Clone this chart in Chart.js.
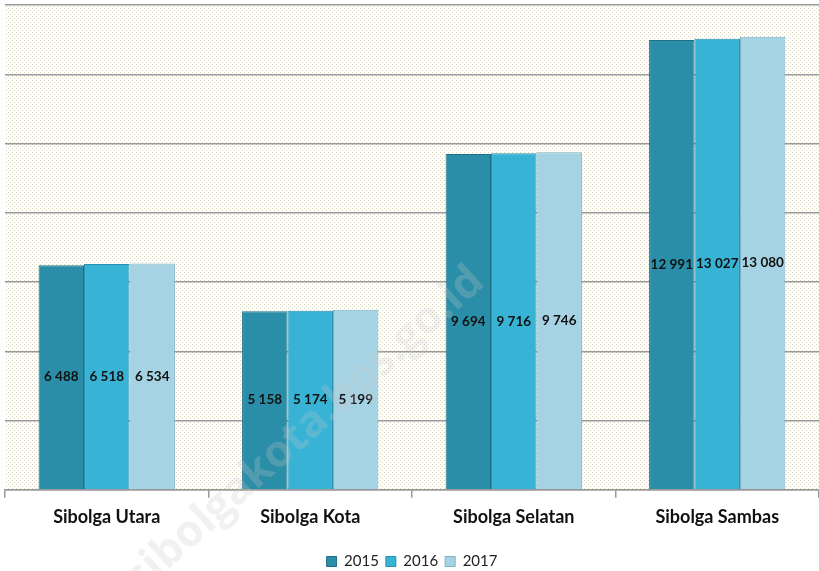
<!DOCTYPE html>
<html>
<head>
<meta charset="utf-8">
<script src="https://cdn.jsdelivr.net/npm/chart.js@4"></script>
<style>
  html, body { margin: 0; padding: 0; background: #fff; }
  #wrap { width: 819px; height: 571px; }
</style>
</head>
<body>
<div id="wrap"><canvas id="myChart"></canvas></div>
<script>
let kecamatan = ["Sibolga Utara", "Sibolga Kota", "Sibolga Selatan", "Sibolga Sambas"];
let tahun = ["2015", "2016", "2017"];
let values2015 = [6488, 5158, 9694, 12991];
let values2016 = [6518, 5174, 9716, 13027];
let values2017 = [6534, 5199, 9746, 13080];
let barColors = ["#2b8ea8", "#38b3d6", "#a6d3e4"];
let barBorders = ["#1f6f85", "#2690b0", "#7fb0c2"];

function formatNumber(n) {
  return String(n).replace(/\B(?=(\d{3})+(?!\d))/g, " ");
}

// dotted background in the plot area
const dottedBackground = {
  id: "dottedBackground",
  beforeDraw(chart) {
    let area = chart.chartArea;
    let ctx = chart.ctx;
    let p = document.createElement("canvas");
    p.width = 4;
    p.height = 4;
    let pctx = p.getContext("2d");
    pctx.fillStyle = "#ffffff";
    pctx.fillRect(0, 0, 4, 4);
    pctx.fillStyle = "#dcd8b8";
    pctx.fillRect(0, 0, 1, 1);
    pctx.fillRect(2, 2, 1, 1);
    ctx.save();
    ctx.fillStyle = ctx.createPattern(p, "repeat");
    ctx.fillRect(area.left, area.top, area.right - area.left, area.bottom - area.top);
    ctx.restore();
  },
};

// value labels in the middle of each bar
const barValues = {
  id: "barValues",
  afterDatasetsDraw(chart) {
    let ctx = chart.ctx;
    ctx.save();
    ctx.font = "bold 13.5px Lato, 'Open Sans', sans-serif";
    ctx.fillStyle = "#111";
    ctx.textAlign = "center";
    ctx.textBaseline = "middle";
    chart.data.datasets.forEach((ds, i) => {
      let meta = chart.getDatasetMeta(i);
      meta.data.forEach((bar, j) => {
        let y = (bar.y + bar.base) / 2;
        ctx.fillText(formatNumber(ds.data[j]), bar.x, y);
      });
    });
    ctx.restore();
  },
};

// watermark
const watermark = {
  id: "watermark",
  afterDraw(chart) {
    let ctx = chart.ctx;
    ctx.save();
    ctx.translate(305, 430);
    ctx.rotate(-Math.PI / 4.3);
    ctx.font = "bold 44px 'Open Sans', sans-serif";
    ctx.fillStyle = "rgba(200,200,200,0.25)";
    ctx.textAlign = "center";
    ctx.textBaseline = "middle";
    ctx.fillText("sibolgakota.bps.go.id", 0, 0);
    ctx.restore();
  },
};

const ctx = document.getElementById("myChart");

new Chart(ctx, {
  type: "bar",
  data: {
    labels: kecamatan,
    datasets: [
      {
        label: tahun[0],
        data: values2015,
        backgroundColor: barColors[0],
        borderColor: barBorders[0],
        borderWidth: 1,
      },
      {
        label: tahun[1],
        data: values2016,
        backgroundColor: barColors[1],
        borderColor: barBorders[1],
        borderWidth: 1,
      },
      {
        label: tahun[2],
        data: values2017,
        backgroundColor: barColors[2],
        borderColor: barBorders[2],
        borderWidth: 1,
      },
    ],
  },
  options: {
    responsive: true,
    maintainAspectRatio: false,
    animation: false,
    datasets: {
      bar: {
        categoryPercentage: 0.67,
        barPercentage: 1.0,
      },
    },
    layout: {
      padding: { left: 5, right: 0, top: 5, bottom: -8 },
    },
    scales: {
      x: {
        grid: {
          drawOnChartArea: false,
          color: "#999",
          tickLength: 8,
          lineWidth: 1.5,
        },
        border: { color: "#999", width: 1.5 },
        ticks: {
          color: "#111",
          padding: 9,
          font: { family: "Lato, 'Open Sans', sans-serif", size: 18, weight: "bold" },
        },
        title: {
          display: true,
          text: " ",
          font: { size: 8 },
          padding: { top: 0, bottom: 0 },
        },
      },
      y: {
        min: 0,
        max: 14000,
        ticks: { display: false, stepSize: 2000 },
        border: { display: false },
        grid: { color: "#9a9a9a", lineWidth: 1.5, drawTicks: false },
      },
    },
    plugins: {
      legend: {
        position: "bottom",
        labels: {
          boxWidth: 10,
          boxHeight: 10,
          padding: 7,
          color: "#222",
          font: { family: "Lato, 'Open Sans', sans-serif", size: 15 },
        },
      },
      tooltip: { enabled: false },
    },
  },
  plugins: [dottedBackground, barValues, watermark],
});
</script>
</body>
</html>
